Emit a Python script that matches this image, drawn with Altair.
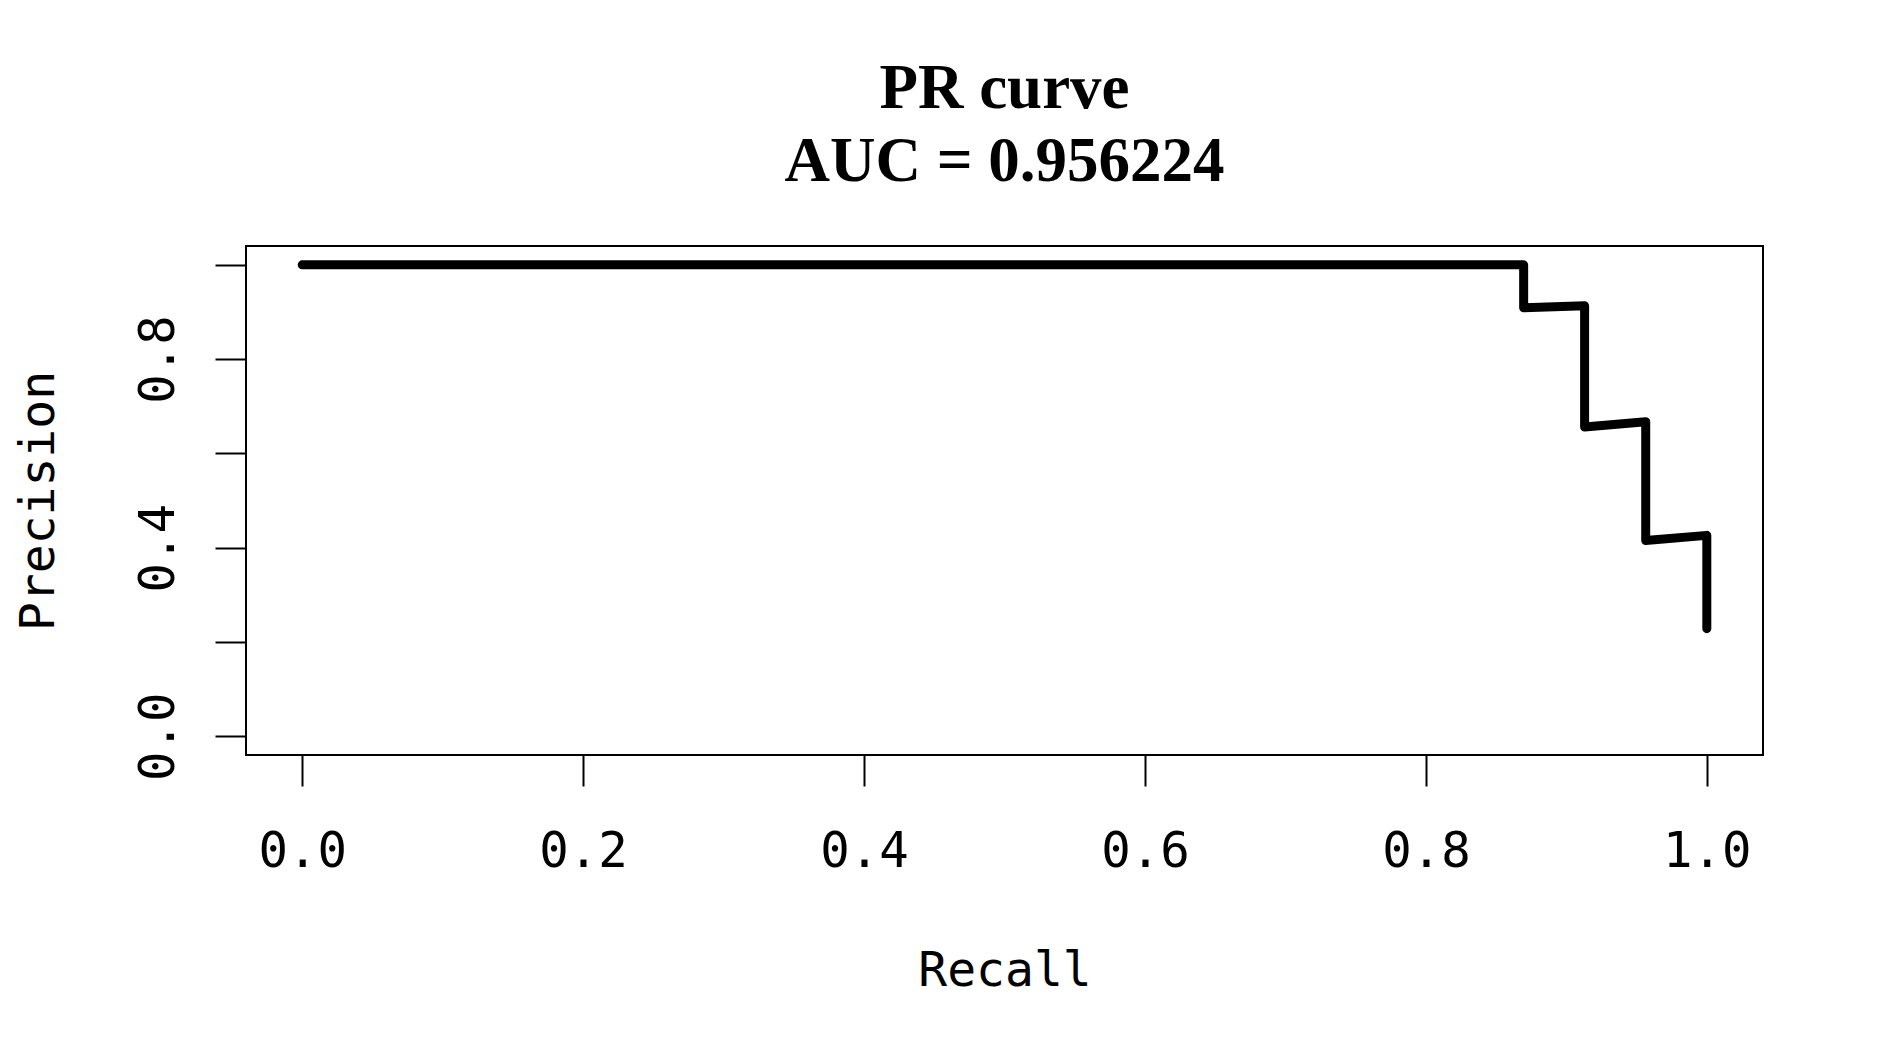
import altair as alt
import pandas as pd

recall = [0.0, 0.8696, 0.8696, 0.9130, 0.9130, 0.9565, 0.9565, 1.0, 1.0]
precision = [1.0, 1.0, 0.909, 0.913, 0.656, 0.667, 0.415, 0.426, 0.228]
order = list(range(len(recall)))
tick_values = [0.0, 0.2, 0.4, 0.6, 0.8, 1.0]

df = pd.DataFrame({"Recall": recall, "Precision": precision, "ord": order})

mono = "DejaVu Sans Mono"

chart = alt.Chart(df).mark_line(
    color="black", strokeWidth=9, strokeCap="round", strokeJoin="round"
).encode(
    x=alt.X("Recall:Q", scale=alt.Scale(domain=[-0.04, 1.04], nice=False, zero=False),
            axis=alt.Axis(values=tick_values, format=".1f", title="Recall",
                          domain=False, grid=False, tickSize=31, tickWidth=2, tickColor="black",
                          labelFont=mono, labelFontSize=49, labelColor="black",
                          labelBaseline="alphabetic", labelPadding=80, labelFlush=False,
                          labelOverlap=False,
                          titleFont=mono, titleFontSize=48, titleFontWeight="normal",
                          titleColor="black", titleBaseline="alphabetic", titleY=230)),
    y=alt.Y("Precision:Q", scale=alt.Scale(domain=[-0.04, 1.04], nice=False, zero=False),
            axis=alt.Axis(values=tick_values, format=".1f", title="Precision",
                          labelExpr="round(datum.value*10) % 4 == 0 ? datum.label : ''",
                          domain=False, grid=False, tickSize=31, tickWidth=2, tickColor="black",
                          labelFont=mono, labelFontSize=49, labelColor="black",
                          labelAngle=-90, labelAlign="center", labelBaseline="alphabetic",
                          labelPadding=42, labelFlush=False, labelOverlap=False,
                          titleFont=mono, titleFontSize=48, titleFontWeight="normal",
                          titleColor="black", titleBaseline="alphabetic", titleX=-193,
                          titleAngle=-90)),
    order="ord:O",
).properties(
    width=1517, height=509,
    background="white",
    title=alt.Title(["PR curve", "AUC = 0.956224"], font="Liberation Serif", fontSize=63,
                    fontWeight="bold", color="black", anchor="middle", frame="group",
                    baseline="alphabetic", lineHeight=73, offset=2),
    autosize=alt.AutoSizeParams(type="none"),
    padding={"left": 238, "top": 238, "right": 110, "bottom": 290},
).configure_view(stroke="black", strokeWidth=2)

chart.save("out.html", embed_options={"renderer": "svg", "actions": False})
